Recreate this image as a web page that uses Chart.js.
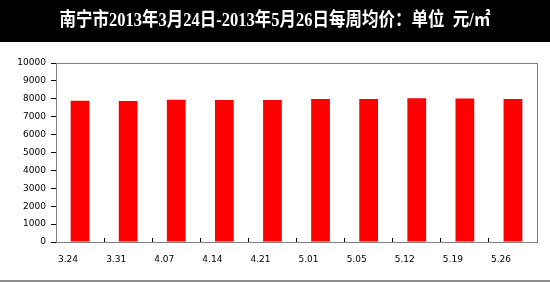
<!DOCTYPE html>
<html>
<head>
<meta charset="utf-8">
<script src="https://cdn.jsdelivr.net/npm/chart.js@4"></script>
<style>
  html, body { margin: 0; padding: 0; background: #fff; }
  #wrap { width: 550px; height: 282px; position: relative; overflow: hidden; }
  #title-bar {
    height: 42px; background: #000; color: #fff;
    font-family: "Liberation Serif", "Noto Sans CJK SC", serif;
    font-weight: bold; font-size: 16.5px; line-height: 40px; text-align: center;
  }
  #title-bar span { display: inline-block; transform: scaleY(1.15); }
  #bottom-bar { height: 2px; background: #8c8c8c; }
</style>
</head>
<body>
<div id="wrap">
  <div id="title-bar"><span>南宁市2013年3月24日-2013年5月26日每周均价：单位&nbsp;&nbsp;元/㎡</span></div>
  <canvas id="price-chart" width="550" height="238"></canvas>
  <div id="bottom-bar"></div>
</div>
<script>
const weekLabels = ["3.24", "3.31", "4.07", "4.14", "4.21", "5.01", "5.05", "5.12", "5.19", "5.26"];
const avgPrices = [7890, 7880, 7950, 7930, 7930, 7990, 7990, 8030, 8020, 7990];
const yTicks = [0, 1000, 2000, 3000, 4000, 5000, 6000, 7000, 8000, 9000, 10000];

const tickFont = { family: "DejaVu Sans", size: 9 };

// gray frame round the plot area, axes are drawn over it in black
const plotFrame = {
    id: 'plotFrame',
    beforeDatasetsDraw(chart) {
        const a = chart.chartArea;
        const c = chart.ctx;
        c.save();
        c.strokeStyle = '#808080';
        c.lineWidth = 1;
        c.strokeRect(Math.round(a.left) + 0.5, Math.round(a.top) + 0.5, Math.round(a.right - a.left), Math.round(a.bottom - a.top));
        c.restore();
    }
};

const ctx = document.getElementById('price-chart');

const chart = new Chart(ctx, {
    type: 'bar',
    data: {
        labels: weekLabels,
        datasets: [{
            data: avgPrices,
            backgroundColor: '#ff0000',
            borderWidth: 0,
            barPercentage: 0.39,
            categoryPercentage: 1
        }]
    },
    options: {
        responsive: false,
        animation: false,
        layout: { padding: { top: 21, right: 13, left: 0, bottom: 0 } },
        scales: {
            x: {
                grid: {
                    drawOnChartArea: false,
                    offset: true,
                    tickLength: -4,
                    color: '#000'
                },
                border: { color: '#000', width: 1 },
                ticks: {
                    font: tickFont,
                    color: '#000',
                    padding: 16,
                    labelOffset: -12,
                    maxRotation: 0,
                    autoSkip: false
                },
                afterFit(scale) { scale.height = 38; }
            },
            y: {
                min: 0,
                max: 10000,
                afterBuildTicks(scale) { scale.ticks = yTicks.map(v => ({ value: v })); },
                grid: {
                    drawOnChartArea: false,
                    tickLength: 5,
                    color: '#000'
                },
                border: { color: '#000', width: 1 },
                ticks: {
                    font: tickFont,
                    color: '#000',
                    padding: 5,
                    callback: (value) => String(value)
                },
                afterFit(scale) { scale.width = 56; }
            }
        },
        plugins: {
            legend: { display: false },
            tooltip: { enabled: false }
        }
    },
    plugins: [plotFrame]
});
</script>
</body>
</html>
